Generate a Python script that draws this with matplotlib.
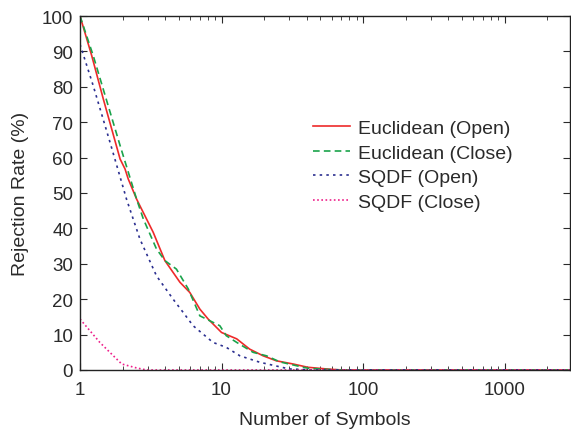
import matplotlib
matplotlib.use("Agg")
import matplotlib.pyplot as plt

plt.rcParams['font.family'] = ['Liberation Sans', 'DejaVu Sans']

# Euclidean (Open)
eo_x = [1, 1.21, 1.46, 1.92, 2.08, 2.19, 2.51, 2.65, 3.29, 3.98, 5.08, 5.97, 7.03, 8.04,
        10.0, 12.8, 15.8, 19.7, 24.4, 32, 40.8, 55, 70, 2900]
eo_y = [100, 88.8, 76.6, 59.6, 56.8, 54, 48.3, 46.4, 38.9, 30.9, 24.8, 21.9, 17.2, 14.4,
        10.6, 8.8, 5.9, 4.0, 2.6, 1.7, 0.76, 0.3, 0, 0]

# Euclidean (Close)
ec_x = [1, 1.24, 1.92, 2.51, 2.8, 3.47, 3.98, 4.8, 5.82, 7.03, 8.27, 9.73, 10.8, 12.8,
        16.7, 20.8, 25.8, 35.7, 40.8, 60, 80, 2900]
ec_y = [100, 88.8, 63.4, 48.3, 42.7, 34.2, 30.9, 28.5, 22.9, 15.3, 13.9, 12.5, 9.7, 7.8,
        5.0, 4.0, 2.3, 1.0, 0.5, 0.1, 0, 0]

# SQDF (Open)
so_x = [1, 1.24, 1.63, 1.97, 2.13, 2.65, 3.47, 4.55, 5.35, 6.3, 8.7, 10.8, 13.5, 18.6,
        30, 45, 2900]
so_y = [92, 80.3, 64.3, 53, 48.3, 37, 26.6, 20, 16.3, 12.5, 7.8, 6.4, 4.0, 2.2,
        0.3, 0, 0]

# SQDF (Close)
sc_x = [1, 1.38, 1.97, 2.5, 2.96, 2900]
sc_y = [14.4, 7.8, 1.7, 0.6, 0, 0]

fig = plt.figure(figsize=(5.71, 4.35), dpi=100)
ax = fig.add_axes([80/571, (435-371)/435, (570-80)/571, (371-17)/435])

ax.plot(eo_x, eo_y, '-', color='#ee2a2a', lw=1.2, label='Euclidean (Open)')
ax.plot(ec_x, ec_y, color='#1aa34a', lw=1.2, ls=(0, (4, 2.5)), label='Euclidean (Close)')
ax.plot(so_x, so_y, color='#2b2f90', lw=1.2, ls=(0, (1.5, 2.5)), label='SQDF (Open)')
ax.plot(sc_x, sc_y, color='#ee1f8a', lw=1.2, ls=(0, (1, 1.5)), label='SQDF (Close)')

ax.set_xscale('log')
ax.set_xlim(1, 2900)
ax.set_ylim(0, 100)
ax.set_yticks(range(0, 101, 10))
ax.set_xticks([1, 10, 100, 1000])
ax.set_xticklabels(['1', '10', '100', '1000'])
ax.tick_params(which='both', direction='in', top=True, right=True, labelsize=13.5,
               colors='#2a2a2a')
ax.tick_params(axis='x', pad=8)
ax.tick_params(axis='y', pad=5)
ax.tick_params(which='major', length=5)
ax.tick_params(which='minor', length=3)
for s in ax.spines.values():
    s.set_linewidth(1.0)
    s.set_color('#222222')

ax.set_xlabel('Number of Symbols', fontsize=14, color='#2a2a2a', labelpad=9)
ax.set_ylabel('Rejection Rate (%)', fontsize=14, color='#2a2a2a', labelpad=9)

ax.legend(loc='upper left', bbox_to_anchor=(0.46, 0.73), frameon=False, fontsize=14,
          handlelength=1.9, handletextpad=0.4, labelspacing=0.36, borderaxespad=0,
          labelcolor='#2a2a2a')

fig.savefig('out.png', dpi=100)
